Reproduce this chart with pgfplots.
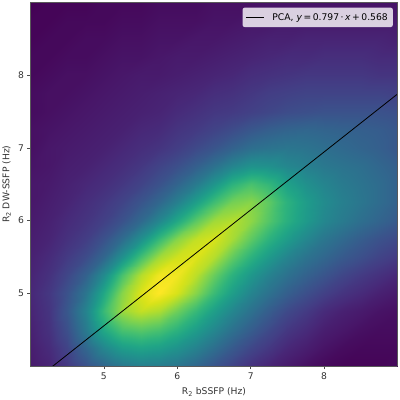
\documentclass[border=0pt]{standalone}
\usepackage{fontspec}
\setmainfont{DejaVu Sans}
\usepackage{pgfplots}
\pgfplotsset{compat=1.18}
\begin{document}
\begin{tikzpicture}
\path[use as bounding box] (-30.5pt,-34pt) rectangle (369.5pt,366pt);
\begin{axis}[
    scale only axis, width=367pt, height=363.5pt,
    xmin=4, xmax=9, ymin=4, ymax=9,
    view={0}{90},
    xtick={5,6,7,8}, ytick={5,6,7,8},
    /pgf/number format/assume math mode=true,
    tick label style={font=\fontsize{9.2}{11}\selectfont, text=black!80},
    label style={font=\fontsize{9.2}{11}\selectfont, text=black!80},
    xlabel={R\textsubscript{2} bSSFP (Hz)},
    ylabel={R\textsubscript{2} DW-SSFP (Hz)},
    xlabel style={at={(0.5,0)}, anchor=north, yshift=-18pt},
    ylabel style={at={(0,0.5)}, anchor=south, yshift=16pt},
    tick align=outside, tick pos=left, major tick length=3pt,
    tick style={black!70, line width=0.5pt},
    axis line style={black!65, line width=0.7pt},
    axis on top,
    colormap name=viridis, point meta min=0, point meta max=100,
    legend style={at={(1,1)}, anchor=north east, xshift=-4.5pt, yshift=-5pt,
        fill=white, fill opacity=0.8, draw=none, text opacity=1, rounded corners=2pt,
        font=\fontsize{9.2}{11}\selectfont, inner xsep=3pt, inner ysep=3.5pt},
    legend cell align=left,
    legend image code/.code={\draw[#1] (0pt,0pt) -- (18pt,0pt); \path (24pt,0pt);},
]
\addplot3[surf, shader=interp, z buffer=none, mesh/cols=21, forget plot] coordinates {
(4,9,0) (4.25,9,1) (4.5,9,1) (4.75,9,1) (5,9,2) (5.25,9,2) (5.5,9,2) (5.75,9,3) (6,9,3) (6.25,9,3) (6.5,9,4) (6.75,9,4) (7,9,4) (7.25,9,5) (7.5,9,5) (7.75,9,5) (8,9,5) (8.25,9,5) (8.5,9,5) (8.75,9,5) (9,9,5)
(4,8.75,1) (4.25,8.75,1) (4.5,8.75,2) (4.75,8.75,2) (5,8.75,2) (5.25,8.75,3) (5.5,8.75,3) (5.75,8.75,4) (6,8.75,4) (6.25,8.75,4) (6.5,8.75,5) (6.75,8.75,5) (7,8.75,6) (7.25,8.75,6) (7.5,8.75,7) (7.75,8.75,7) (8,8.75,7) (8.25,8.75,7) (8.5,8.75,7) (8.75,8.75,7) (9,8.75,7)
(4,8.5,1) (4.25,8.5,2) (4.5,8.5,2) (4.75,8.5,3) (5,8.5,3) (5.25,8.5,4) (5.5,8.5,4) (5.75,8.5,5) (6,8.5,5) (6.25,8.5,6) (6.5,8.5,6) (6.75,8.5,7) (7,8.5,8) (7.25,8.5,9) (7.5,8.5,9) (7.75,8.5,10) (8,8.5,10) (8.25,8.5,10) (8.5,8.5,10) (8.75,8.5,10) (9,8.5,9)
(4,8.25,2) (4.25,8.25,2) (4.5,8.25,3) (4.75,8.25,3) (5,8.25,4) (5.25,8.25,5) (5.5,8.25,5) (5.75,8.25,6) (6,8.25,7) (6.25,8.25,7) (6.5,8.25,8) (6.75,8.25,9) (7,8.25,10) (7.25,8.25,11) (7.5,8.25,12) (7.75,8.25,12) (8,8.25,13) (8.25,8.25,13) (8.5,8.25,13) (8.75,8.25,12) (9,8.25,12)
(4,8,2) (4.25,8,3) (4.5,8,4) (4.75,8,4) (5,8,5) (5.25,8,6) (5.5,8,7) (5.75,8,7) (6,8,8) (6.25,8,9) (6.5,8,10) (6.75,8,11) (7,8,13) (7.25,8,14) (7.5,8,15) (7.75,8,16) (8,8,16) (8.25,8,16) (8.5,8,16) (8.75,8,15) (9,8,15)
(4,7.75,3) (4.25,7.75,4) (4.5,7.75,4) (4.75,7.75,5) (5,7.75,6) (5.25,7.75,7) (5.5,7.75,8) (5.75,7.75,9) (6,7.75,10) (6.25,7.75,11) (6.5,7.75,13) (6.75,7.75,14) (7,7.75,16) (7.25,7.75,18) (7.5,7.75,19) (7.75,7.75,20) (8,7.75,20) (8.25,7.75,20) (8.5,7.75,20) (8.75,7.75,20) (9,7.75,19)
(4,7.5,3) (4.25,7.5,4) (4.5,7.5,5) (4.75,7.5,6) (5,7.5,7) (5.25,7.5,8) (5.5,7.5,9) (5.75,7.5,10) (6,7.5,12) (6.25,7.5,14) (6.5,7.5,16) (6.75,7.5,17) (7,7.5,19) (7.25,7.5,21) (7.5,7.5,23) (7.75,7.5,24) (8,7.5,25) (8.25,7.5,25) (8.5,7.5,25) (8.75,7.5,25) (9,7.5,24)
(4,7.25,4) (4.25,7.25,5) (4.5,7.25,6) (4.75,7.25,7) (5,7.25,8) (5.25,7.25,9) (5.5,7.25,11) (5.75,7.25,12) (6,7.25,15) (6.25,7.25,17) (6.5,7.25,20) (6.75,7.25,23) (7,7.25,27) (7.25,7.25,30) (7.5,7.25,32) (7.75,7.25,33) (8,7.25,32) (8.25,7.25,31) (8.5,7.25,30) (8.75,7.25,29) (9,7.25,27)
(4,7,4) (4.25,7,6) (4.5,7,7) (4.75,7,8) (5,7,9) (5.25,7,11) (5.5,7,13) (5.75,7,15) (6,7,18) (6.25,7,22) (6.5,7,26) (6.75,7,31) (7,7,36) (7.25,7,38) (7.5,7,39) (7.75,7,38) (8,7,36) (8.25,7,34) (8.5,7,32) (8.75,7,30) (9,7,27)
(4,6.75,5) (4.25,6.75,6) (4.5,6.75,8) (4.75,6.75,9) (5,6.75,11) (5.25,6.75,13) (5.5,6.75,16) (5.75,6.75,20) (6,6.75,24) (6.25,6.75,30) (6.5,6.75,37) (6.75,6.75,45) (7,6.75,51) (7.25,6.75,50) (7.5,6.75,46) (7.75,6.75,43) (8,6.75,40) (8.25,6.75,38) (8.5,6.75,36) (8.75,6.75,33) (9,6.75,30)
(4,6.5,6) (4.25,6.5,7) (4.5,6.5,9) (4.75,6.5,11) (5,6.5,13) (5.25,6.5,16) (5.5,6.5,20) (5.75,6.5,25) (6,6.5,32) (6.25,6.5,41) (6.5,6.5,52) (6.75,6.5,64) (7,6.5,71) (7.25,6.5,66) (7.5,6.5,57) (7.75,6.5,50) (8,6.5,45) (8.25,6.5,41) (8.5,6.5,38) (8.75,6.5,35) (9,6.5,31)
(4,6.25,6) (4.25,6.25,8) (4.5,6.25,10) (4.75,6.25,13) (5,6.25,16) (5.25,6.25,20) (5.5,6.25,26) (5.75,6.25,33) (6,6.25,43) (6.25,6.25,56) (6.5,6.25,69) (6.75,6.25,79) (7,6.25,82) (7.25,6.25,75) (7.5,6.25,64) (7.75,6.25,55) (8,6.25,48) (8.25,6.25,43) (8.5,6.25,39) (8.75,6.25,35) (9,6.25,31)
(4,6,7) (4.25,6,9) (4.5,6,12) (4.75,6,15) (5,6,19) (5.25,6,25) (5.5,6,34) (5.75,6,46) (6,6,60) (6.25,6,75) (6.5,6,86) (6.75,6,89) (7,6,83) (7.25,6,73) (7.5,6,63) (7.75,6,54) (8,6,46) (8.25,6,41) (8.5,6,36) (8.75,6,32) (9,6,28)
(4,5.75,8) (4.25,5.75,10) (4.5,5.75,14) (4.75,5.75,18) (5,5.75,25) (5.25,5.75,35) (5.5,5.75,50) (5.75,5.75,67) (6,5.75,82) (6.25,5.75,91) (6.5,5.75,94) (6.75,5.75,87) (7,5.75,75) (7.25,5.75,64) (7.5,5.75,55) (7.75,5.75,46) (8,5.75,39) (8.25,5.75,34) (8.5,5.75,29) (8.75,5.75,25) (9,5.75,22)
(4,5.5,9) (4.25,5.5,12) (4.5,5.5,17) (4.75,5.5,23) (5,5.5,33) (5.25,5.5,50) (5.5,5.5,70) (5.75,5.5,86) (6,5.5,93) (6.25,5.5,95) (6.5,5.5,89) (6.75,5.5,76) (7,5.5,64) (7.25,5.5,54) (7.5,5.5,45) (7.75,5.5,38) (8,5.5,33) (8.25,5.5,28) (8.5,5.5,24) (8.75,5.5,20) (9,5.5,17)
(4,5.25,10) (4.25,5.25,14) (4.5,5.25,21) (4.75,5.25,31) (5,5.25,48) (5.25,5.25,71) (5.5,5.25,89) (5.75,5.25,98) (6,5.25,98) (6.25,5.25,90) (6.5,5.25,77) (6.75,5.25,64) (7,5.25,53) (7.25,5.25,44) (7.5,5.25,37) (7.75,5.25,31) (8,5.25,26) (8.25,5.25,21) (8.5,5.25,17) (8.75,5.25,14) (9,5.25,11)
(4,5,11) (4.25,5,16) (4.5,5,25) (4.75,5,39) (5,5,60) (5.25,5,82) (5.5,5,95) (5.75,5,100) (6,5,94) (6.25,5,82) (6.5,5,68) (6.75,5,56) (7,5,45) (7.25,5,37) (7.5,5,30) (7.75,5,24) (8,5,19) (8.25,5,15) (8.5,5,12) (8.75,5,9) (9,5,7)
(4,4.75,10) (4.25,4.75,15) (4.5,4.75,27) (4.75,4.75,45) (5,4.75,68) (5.25,4.75,85) (5.5,4.75,91) (5.75,4.75,88) (6,4.75,78) (6.25,4.75,67) (6.5,4.75,56) (6.75,4.75,46) (7,4.75,37) (7.25,4.75,29) (7.5,4.75,22) (7.75,4.75,17) (8,4.75,12) (8.25,4.75,9) (8.5,4.75,7) (8.75,4.75,5) (9,4.75,4)
(4,4.5,9) (4.25,4.5,14) (4.5,4.5,24) (4.75,4.5,41) (5,4.5,60) (5.25,4.5,71) (5.5,4.5,74) (5.75,4.5,71) (6,4.5,64) (6.25,4.5,55) (6.5,4.5,46) (6.75,4.5,37) (7,4.5,29) (7.25,4.5,22) (7.5,4.5,16) (7.75,4.5,12) (8,4.5,8) (8.25,4.5,6) (8.5,4.5,4) (8.75,4.5,3) (9,4.5,3)
(4,4.25,8) (4.25,4.25,12) (4.5,4.25,20) (4.75,4.25,33) (5,4.25,46) (5.25,4.25,55) (5.5,4.25,58) (5.75,4.25,56) (6,4.25,51) (6.25,4.25,44) (6.5,4.25,36) (6.75,4.25,28) (7,4.25,21) (7.25,4.25,16) (7.5,4.25,11) (7.75,4.25,8) (8,4.25,5) (8.25,4.25,3) (8.5,4.25,2) (8.75,4.25,2) (9,4.25,2)
(4,4,7) (4.25,4,10) (4.5,4,16) (4.75,4,25) (5,4,33) (5.25,4,40) (5.5,4,43) (5.75,4,42) (6,4,39) (6.25,4,33) (6.5,4,26) (6.75,4,20) (7,4,14) (7.25,4,10) (7.5,4,7) (7.75,4,4) (8,4,2) (8.25,4,1) (8.5,4,1) (8.75,4,1) (9,4,2)
};
\addplot3[black, line width=0.8pt, no marks] coordinates {(4,3.756,100) (9,7.741,100)};
\addlegendentry{PCA, \textit{y}\,=\,0.797\,·\,\textit{x}\,+\,0.568}
\end{axis}
\end{tikzpicture}
\end{document}
